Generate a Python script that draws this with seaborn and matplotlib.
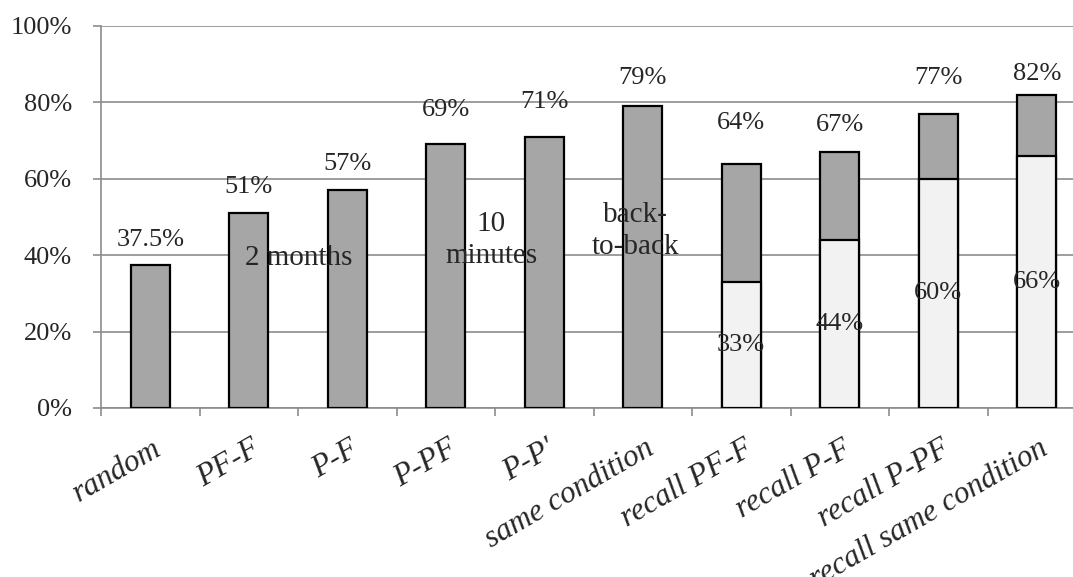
import matplotlib
matplotlib.use("Agg")
import matplotlib.pyplot as plt
import matplotlib.transforms as mtransforms
import seaborn as sns
import pandas as pd

# ---- data ----
categories = ["random", "PF-F", "P-F", "P-PF", "P-P'", "same condition",
              "recall PF-F", "recall P-F", "recall P-PF", "recall same condition"]
totals = [37.5, 51, 57, 69, 71, 79, 64, 67, 77, 82]
total_labels = ["37.5%", "51%", "57%", "69%", "71%", "79%", "64%", "67%", "77%", "82%"]
recall_categories = ["recall PF-F", "recall P-F", "recall P-PF", "recall same condition"]
recall_first = [33, 44, 60, 66]
recall_labels = ["33%", "44%", "60%", "66%"]
y_ticks = [0, 20, 40, 60, 80, 100]
y_tick_labels = ["0%", "20%", "40%", "60%", "80%", "100%"]
notes = ["2 months", "10\nminutes", "back-\nto-back"]

# ---- layout (positions only) ----
total_label_y = [44, 57.8, 64, 78, 80, 86.4, 74.5, 74, 86.4, 87.4]
note_xy = [(1.51, 39.3), (3.46, 44.0), (4.93, 46.3)]

DARK = "#a6a6a6"
LIGHT = "#f2f2f2"
GRID = "#8c8c8c"
FONT = "Liberation Serif"

sns.set_theme(style="white")
plt.rcParams["font.family"] = [FONT, "DejaVu Serif"]

fig = plt.figure(figsize=(10.73, 5.77), dpi=100)
ax = fig.add_axes([101 / 1073, (577 - 408) / 577, 985 / 1073, 382 / 577])

df_tot = pd.DataFrame({"cat": categories, "val": totals})
df_rec = pd.DataFrame({"cat": recall_categories, "val": recall_first})

sns.barplot(data=df_tot, x="cat", y="val", order=categories, color=DARK,
            saturation=1, edgecolor="black", linewidth=1.6, width=0.4, ax=ax, zorder=3)
sns.barplot(data=df_rec, x="cat", y="val", order=categories, color=LIGHT,
            saturation=1, edgecolor="black", linewidth=1.6, width=0.4, ax=ax, zorder=4)

ax.set_xlim(-0.5, len(categories) - 0.5)
ax.set_ylim(0, 100)
ax.set_xlabel("")
ax.set_ylabel("")

# grid and spines
ax.set_axisbelow(True)
ax.yaxis.grid(True, color=GRID, linewidth=1.2)
ax.xaxis.grid(False)
for s in ["top", "right"]:
    ax.spines[s].set_visible(False)
for s in ["left", "bottom"]:
    ax.spines[s].set_color(GRID)
    ax.spines[s].set_linewidth(1.2)

# y ticks
ax.set_yticks(y_ticks)
ax.set_yticklabels(y_tick_labels, fontsize=19, family=FONT)
ax.tick_params(axis="y", length=6, width=1.2, color=GRID, pad=15, left=True)

# x ticks: labels at centers, tick marks at boundaries
ax.set_xticks(range(len(categories)))
ax.set_xticks([i - 0.5 for i in range(len(categories) + 1)], minor=True)
ax.set_xticklabels(categories, rotation=30, ha="right", va="top",
                   rotation_mode="anchor", fontsize=22.5, style="italic", family=FONT)
ax.tick_params(axis="x", which="major", length=0, pad=19)
ax.tick_params(axis="x", which="minor", length=6, width=1.2, color=GRID, bottom=True)
offset = mtransforms.ScaledTranslation(2 / 100, 0, fig.dpi_scale_trans)
for lbl in ax.get_xticklabels():
    lbl.set_transform(lbl.get_transform() + offset)

# value labels
for i, (lab, ly) in enumerate(zip(total_labels, total_label_y)):
    ax.text(i, ly, lab, ha="center", va="center", fontsize=19, family=FONT, zorder=5)
for cat, v, lab in zip(recall_categories, recall_first, recall_labels):
    i = categories.index(cat)
    ax.text(i, v / 2, lab, ha="center", va="center", fontsize=19, family=FONT, zorder=5)

# annotations
for txt, (nx, ny) in zip(notes, note_xy):
    ax.text(nx, ny, txt, ha="center", va="center", multialignment="center",
            fontsize=21, family=FONT, linespacing=1.3, zorder=6)

fig.savefig("out.png", dpi=100)
